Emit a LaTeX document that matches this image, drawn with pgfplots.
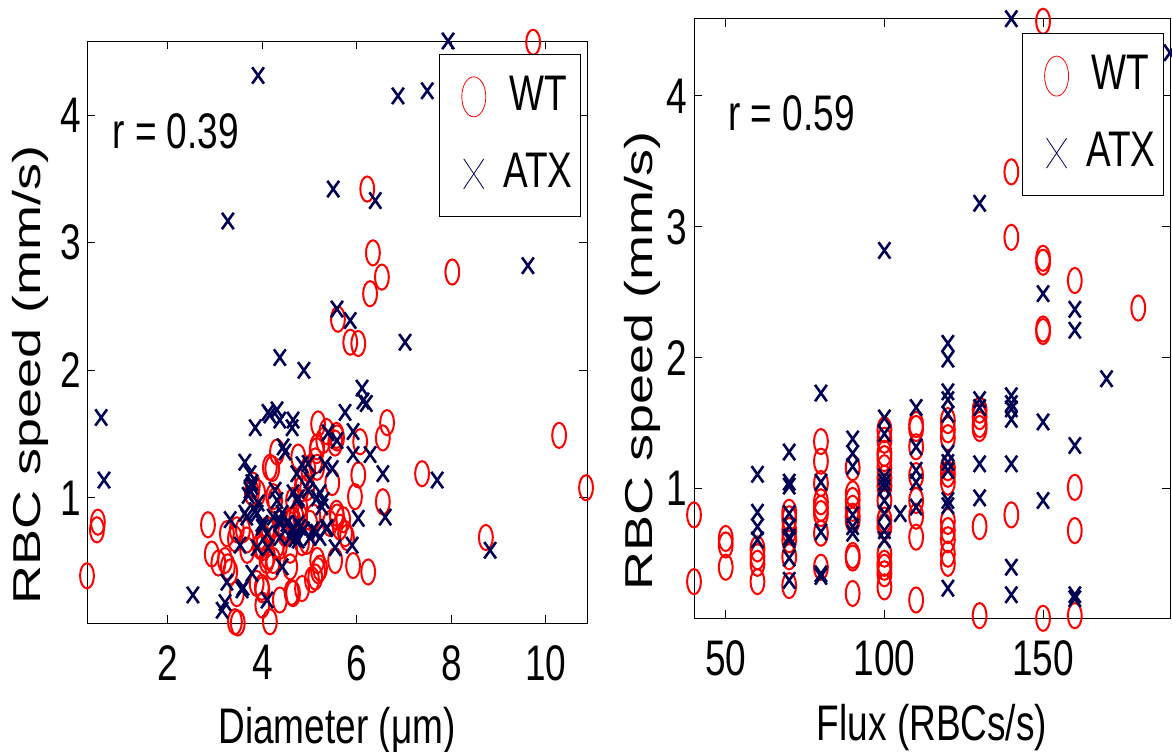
\documentclass[border=0pt]{standalone}
\usepackage{fontspec}
\setmainfont[FakeStretch=0.74]{Liberation Sans}
\newfontfamily\plainfont{Liberation Sans}
\usepackage{graphicx}
\usepackage{pgfplots}
\pgfplotsset{compat=1.18}
\definecolor{wt}{rgb}{1,0,0}
\definecolor{atx}{rgb}{0,0,0.33}
\newcommand\bigf{\fontsize{25}{30}\selectfont}
\pgfplotsset{
  rbc/.style={
    scale only axis,
    axis line style={line width=0.5pt},
    tick align=inside, tick pos=both,
    major tick length=4pt,
    every tick/.style={black, line width=0.5pt},
    /pgf/number format/assume math mode=true,
    ticklabel style={font=\bigf},
    xticklabel style={yshift=-2.7pt},
    label style={font=\bigf},
    clip=false,
    legend style={draw=black, line width=0.5pt, fill=white, font=\bigf, inner xsep=4pt, inner ysep=9pt, row sep=14pt, column sep=1.5pt, nodes={inner sep=0pt}, anchor=north east},
    legend image code/.code={\path (0pt,-12pt) (26pt,12pt); \draw[##1] plot coordinates {(13pt,0pt)};},
  },
  wtp/.style={only marks, mark=o, mark size=6.3pt, color=wt, mark options={xscale=0.55, line width=1pt}, forget plot},
  atxp/.style={only marks, mark=x, mark size=5.8pt, color=atx, mark options={xscale=0.72, line width=1.3pt}, forget plot},
  wtleg/.style={only marks, mark=o, mark size=10pt, color=wt, mark options={xscale=0.6, line width=0.4pt}},
  atxleg/.style={only marks, mark=x, mark size=10.6pt, color=atx, mark options={xscale=0.67, line width=0.4pt}},
}
\begin{document}
\bigf
\begin{tikzpicture}
\useasboundingbox (0,0) rectangle (586pt,375.5pt);
% ---------------- left panel ----------------
\begin{axis}[rbc,
  at={(43.5pt,64pt)}, anchor=south west,
  width=250pt, height=291pt,
  xmin=0.29, xmax=10.87, ymin=0.02, ymax=4.58,
  xtick={2,4,6,8,10}, ytick={1,2,3,4},
  yticklabel style={xshift=5.8pt},
  xlabel={Diameter (μm)},
  xlabel style={at={(axis description cs:0.5,0)}, anchor=base, yshift=-60pt},
  ylabel={\scalebox{1}[0.72]{\plainfont\fontsize{27}{32}\selectfont RBC speed (mm/s)}},
  ylabel style={at={(axis description cs:-0.094,0.426)}, anchor=base},
  legend style={at={(axis description cs:0.988,0.978)}},
]
\addlegendimage{wtleg}
\addlegendentry{WT}
\addlegendimage{atxleg}
\addlegendentry{ATX}
\addplot[wtp] coordinates {
(9.73,4.57) (6.22,3.42) (6.34,2.92) (6.53,2.73) (6.28,2.60) (8.02,2.77) (5.60,2.40)
(5.86,2.22) (6.03,2.21) (6.64,1.59) (6.55,1.47) (5.18,1.58) (10.28,1.49) (10.85,1.08)
(5.58,1.47) (5.54,1.43) (5.29,1.45) (5.16,1.40) (6.07,1.44) (4.31,1.36) (4.76,1.32)
(4.21,1.23) (5.12,1.29) (5.16,1.24) (5.48,1.12) (6.03,1.18) (7.38,1.19) (3.80,1.10)
(5.96,1.01) (6.55,0.97) (4.95,1.08) (4.65,0.98) (4.80,0.93) (4.23,1.01) (2.85,0.79)
(0.52,0.81) (0.50,0.75) (3.25,0.72) (3.42,0.68) (3.59,0.75) (4.10,0.75) (4.65,0.83)
(4.80,0.85) (5.01,0.80) (5.58,0.85) (5.71,0.83) (5.75,0.72) (3.68,0.59) (4.00,0.61)
(4.31,0.63) (4.84,0.65) (2.93,0.56) (3.21,0.51) (3.27,0.46) (4.12,0.54) (4.21,0.46)
(4.59,0.46) (5.16,0.51) (5.18,0.43) (5.12,0.38) (5.54,0.51) (5.92,0.47) (6.24,0.42)
(8.73,0.69) (0.29,0.39) (3.46,0.25) (4.00,0.28) (4.37,0.20) (4.65,0.25) (4.84,0.29)
(5.05,0.36) (4.00,0.16) (3.42,0.03) (3.48,0.02) (4.16,0.03)
(3.78,1.04) (4.97,1.23) (4.84,1.15) (4.16,1.24) (3.91,1.04) (5.36,1.52) (5.57,1.49)
(5.15,1.37) (4.27,0.98) (4.83,1.07) (5.08,0.85) (4.62,0.83) (4.72,0.85) (4.48,0.72)
(4.13,0.75) (3.46,0.75) (3.67,0.67) (3.07,0.49) (3.32,0.42) (4.09,0.51) (4.23,0.51)
(5.22,0.45) (3.88,0.33) (4.62,0.26) (5.43,0.80) (5.64,0.77) (5.79,0.69) (5.57,0.88)
(4.02,0.69) (3.95,0.62) (4.37,0.62) (4.94,0.66) (4.59,0.59) (3.99,0.30)
};
\addplot[atxp] coordinates {
(7.93,4.58) (3.91,4.31) (6.87,4.15) (7.49,4.19) (5.50,3.42) (6.39,3.33) (3.27,3.17)
(9.62,2.82) (5.58,2.48) (5.86,2.39) (7.02,2.22) (4.37,2.10) (4.88,2.00) (6.11,1.86)
(6.13,1.76) (6.20,1.74) (0.59,1.63) (0.65,1.14) (4.12,1.67) (4.31,1.69) (4.16,1.65)
(4.37,1.61) (4.65,1.61) (4.63,1.55) (3.85,1.55) (5.75,1.67) (5.39,1.51) (5.58,1.45)
(5.92,1.52) (4.44,1.40) (4.48,1.36) (5.92,1.34) (6.28,1.34) (3.63,1.28) (4.84,1.26)
(4.97,1.27) (5.33,1.26) (5.48,1.23) (6.55,1.19) (7.70,1.14) (3.78,1.12) (3.74,1.06)
(3.70,1.02) (4.73,1.19) (5.01,1.14) (4.27,1.06) (4.31,0.98) (4.65,1.04) (4.73,0.98)
(5.22,1.04) (5.29,0.98) (3.91,0.96) (3.89,0.88) (3.63,0.88) (4.42,0.88) (4.37,0.83)
(3.32,0.83) (4.00,0.77) (4.10,0.72) (4.52,0.80) (4.65,0.75) (4.80,0.77) (5.07,0.75)
(5.22,0.69) (5.37,0.77) (6.03,0.84) (6.60,0.85) (3.53,0.63) (3.89,0.61) (4.12,0.61)
(4.37,0.69) (4.76,0.67) (5.01,0.69) (5.54,0.61) (5.90,0.63) (8.82,0.59) (3.78,0.41)
(3.25,0.34) (4.42,0.46) (3.59,0.30) (3.57,0.28) (2.53,0.24) (3.21,0.18) (3.15,0.12)
(4.10,0.20) (4.76,1.00) (4.97,1.06) (5.16,1.00) (5.26,0.93) (3.67,0.85) (3.85,0.90)
(3.99,0.80) (4.23,0.85) (4.37,0.80) (4.66,0.77) (4.76,0.80) (4.87,0.75) (5.15,0.73)
(5.36,0.76) (4.59,0.69) (4.69,0.68) (3.74,1.19) (3.78,1.09)
};
\node[anchor=base west, inner sep=0pt, font=\bigf] at (axis cs:0.82,3.74) {r = 0.39};
\end{axis}
% ---------------- right panel ----------------
\begin{axis}[rbc,
  at={(347pt,66.35pt)}, anchor=south west,
  width=238pt, height=299.8pt,
  xmin=40, xmax=190, ymin=0.01, ymax=4.59,
  xtick={50,100,150}, ytick={1,2,3,4},
  yticklabel style={xshift=5.3pt},
  xlabel={Flux (RBCs/s)},
  xlabel style={at={(axis description cs:0.5,0)}, anchor=base, yshift=-60.9pt},
  ylabel={\scalebox{1}[0.72]{\plainfont\fontsize{27}{32}\selectfont RBC speed (mm/s)}},
  ylabel style={at={(axis description cs:-0.088,0.43)}, anchor=base},
  legend style={at={(axis description cs:0.987,0.976)}},
]
\addlegendimage{wtleg}
\addlegendentry{WT}
\addlegendimage{atxleg}
\addlegendentry{ATX}
\addplot[wtp] coordinates {
(40,0.80) (40,0.29)
(50,0.62) (50,0.57) (50,0.40)
(60,0.54) (60,0.48) (60,0.43) (60,0.29)
(70,0.82) (70,0.77) (70,0.68) (70,0.61) (70,0.48) (70,0.26)
(80,1.36) (80,1.21) (80,1.04) (80,0.90) (80,0.85) (80,0.81) (80,0.66) (80,0.40)
(90,1.16) (90,0.96) (90,0.91) (90,0.85) (90,0.79) (90,0.76) (90,0.49) (90,0.47) (90,0.20)
(100,1.45) (100,1.37) (100,1.27) (100,1.23) (100,1.16) (100,1.08) (100,1.02) (100,0.91)
(100,0.76) (100,0.71) (100,0.50) (100,0.43) (100,0.40) (100,0.35) (100,0.25)
(110,1.49) (110,1.46) (110,1.32) (110,1.10) (110,0.91) (110,0.79) (110,0.63) (110,0.15)
(120,1.52) (120,1.45) (120,1.39) (120,1.16) (120,1.11) (120,1.05) (120,0.75) (120,0.68)
(120,0.61) (120,0.50) (120,0.43)
(130,1.60) (130,1.55) (130,1.49) (130,1.46) (130,0.71) (130,0.03)
(140,3.42) (140,2.92) (140,0.80)
(150,4.57) (150,2.76) (150,2.73) (150,2.22) (150,2.20) (150,0.01)
(160,2.59) (160,1.01) (160,0.68) (160,0.03)
(180,2.38)
};
\addplot[atxp] coordinates {
(60,1.11) (60,0.82) (60,0.71) (60,0.61)
(70,1.28) (70,1.05) (70,1.02) (70,0.81) (70,0.71) (70,0.63) (70,0.61) (70,0.47) (70,0.30)
(80,1.73) (80,1.05) (80,0.67) (80,0.35) (80,0.33)
(90,1.38) (90,1.27) (90,1.17) (90,0.80) (90,0.71) (90,0.66)
(100,2.82) (100,1.54) (100,1.42) (100,1.09) (100,1.05) (100,1.01) (100,0.91) (100,0.81)
(100,0.68) (100,0.61)
(105,0.81)
(110,1.62) (110,1.32) (110,1.14) (110,1.05) (110,0.86)
(120,2.11) (120,1.99) (120,1.74) (120,1.68) (120,1.57) (120,1.27) (120,1.20) (120,1.14)
(120,0.91) (120,0.87) (120,0.24)
(130,3.18) (130,1.68) (130,1.62) (130,1.19) (130,0.93)
(140,4.59) (140,1.71) (140,1.65) (140,1.61) (140,1.53) (140,1.19) (140,0.40) (140,0.19)
(150,2.49) (150,1.51) (150,0.91)
(160,2.37) (160,2.21) (160,1.33) (160,0.19) (160,0.16)
(170,1.84)
(190,4.33)
};
\node[anchor=base west, inner sep=0pt, font=\bigf] at (axis cs:50.7,3.735) {r = 0.59};
\end{axis}
\end{tikzpicture}
\end{document}
